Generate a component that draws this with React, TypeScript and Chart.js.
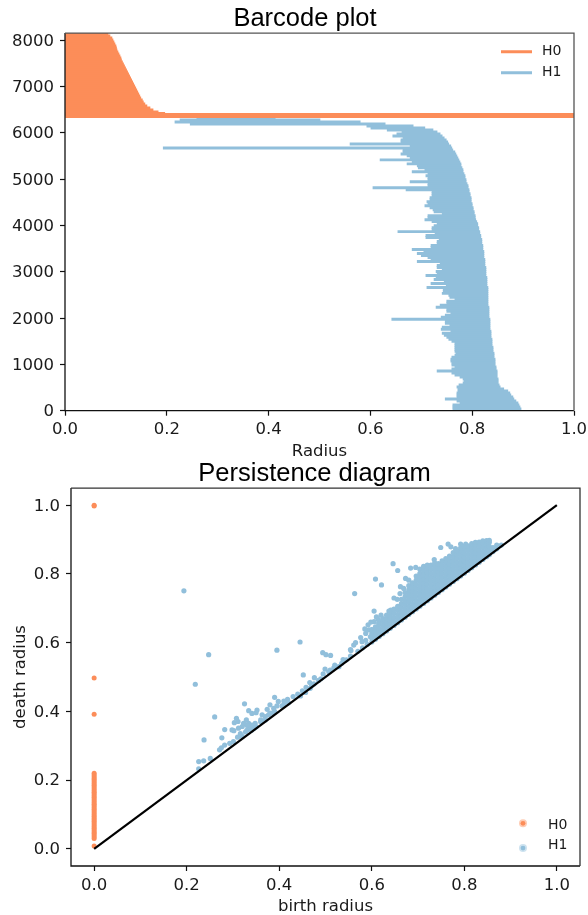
import React, { useEffect, useRef } from "react";
import { Chart, registerables } from "chart.js";

Chart.register(...registerables);

const ORANGE = "#fc8d59";
const BLUE = "#91bfdb";
const TEXT = "#1a1a1a";
const TICK_FONT = { family: "'DejaVu Sans'", size: 16.5 };
const TITLE_FONT = { family: "'Liberation Sans'", size: 25.5, weight: "normal", lineHeight: 1.1 };

const radiusTicks = [0, 0.2, 0.4, 0.6, 0.8, 1];
const rankTicks = [0, 1000, 2000, 3000, 4000, 5000, 6000, 7000, 8000];

// Barcode plot: H0 bars (all born at radius 0)
const h0Ranks = [
  8129, 8086, 8043, 8000, 7957, 7913, 7870, 7827, 7784, 7741,
  7698, 7655, 7611, 7568, 7525, 7482, 7439, 7396, 7353, 7309,
  7266, 7223, 7180, 7137, 7094, 7051, 7008, 6964, 6921, 6878,
  6835, 6792, 6749, 6706, 6662, 6619, 6576, 6533, 6490, 6447,
  6415, 6392, 6349,
];
const h0Deaths = [
  0.0845, 0.0884, 0.0923, 0.0943, 0.0963, 0.0982, 0.1002, 0.1012, 0.1022, 0.1041,
  0.1061, 0.1081, 0.11, 0.111, 0.113, 0.115, 0.117, 0.119, 0.121, 0.123,
  0.125, 0.127, 0.129, 0.131, 0.133, 0.135, 0.137, 0.139, 0.141, 0.143,
  0.145, 0.147, 0.149, 0.152, 0.154, 0.157, 0.161, 0.167, 0.173, 0.183,
  0.196, 1, 1,
];

// Barcode plot: H1 bars
const h1Ranks = [
  6316, 6273, 6230, 6187, 6144, 6101, 6058, 6015, 5972, 5929,
  5886, 5843, 5800, 5757, 5714, 5671, 5628, 5585, 5542, 5499,
  5456, 5413, 5370, 5327, 5284, 5241, 5198, 5155, 5112, 5069,
  5026, 4983, 4940, 4897, 4854, 4811, 4768, 4725, 4682, 4639,
  4596, 4553, 4510, 4467, 4424, 4381, 4338, 4295, 4252, 4209,
  4166, 4123, 4080, 4037, 3994, 3951, 3908, 3865, 3822, 3779,
  3736, 3693, 3650, 3607, 3564, 3521, 3478, 3435, 3392, 3349,
  3306, 3263, 3220, 3177, 3134, 3091, 3048, 3005, 2962, 2919,
  2876, 2833, 2790, 2747, 2704, 2661, 2618, 2575, 2532, 2489,
  2446, 2403, 2360, 2317, 2274, 2231, 2188, 2145, 2102, 2059,
  2016, 1973, 1930, 1887, 1844, 1801, 1758, 1715, 1672, 1629,
  1586, 1543, 1500, 1457, 1414, 1371, 1328, 1285, 1242, 1199,
  1156, 1113, 1070, 1027, 984, 941, 898, 855, 812, 769,
  726, 683, 640, 597, 554, 511, 468, 425, 382, 339,
  296, 253, 210, 167, 124, 81, 38,
];
const h1Births = [
  0.259, 0.226, 0.216, 0.246, 0.593, 0.601, 0.633, 0.662, 0.652, 0.644,
  0.664, 0.66, 0.66, 0.56, 0.678, 0.193, 0.664, 0.664, 0.66, 0.672,
  0.678, 0.619, 0.682, 0.672, 0.692, 0.694, 0.707, 0.682, 0.713, 0.709,
  0.713, 0.713, 0.678, 0.713, 0.713, 0.605, 0.67, 0.721, 0.721, 0.721,
  0.717, 0.717, 0.711, 0.713, 0.707, 0.717, 0.723, 0.725, 0.741, 0.713,
  0.713, 0.707, 0.721, 0.731, 0.725, 0.721, 0.721, 0.654, 0.727, 0.709,
  0.709, 0.735, 0.731, 0.731, 0.719, 0.719, 0.682, 0.705, 0.692, 0.7,
  0.713, 0.719, 0.692, 0.737, 0.731, 0.731, 0.741, 0.729, 0.731, 0.709,
  0.729, 0.725, 0.745, 0.719, 0.749, 0.711, 0.743, 0.743, 0.741, 0.754,
  0.756, 0.766, 0.75, 0.75, 0.737, 0.729, 0.75, 0.75, 0.758, 0.747,
  0.739, 0.642, 0.747, 0.747, 0.756, 0.741, 0.739, 0.758, 0.741, 0.745,
  0.75, 0.754, 0.76, 0.766, 0.766, 0.766, 0.766, 0.766, 0.768, 0.766,
  0.76, 0.758, 0.758, 0.76, 0.76, 0.766, 0.76, 0.731, 0.76, 0.766,
  0.776, 0.782, 0.784, 0.782, 0.774, 0.77, 0.772, 0.772, 0.77, 0.77,
  0.77, 0.747, 0.77, 0.776, 0.762, 0.762, 0.762,
];
const h1Deaths = [
  0.413, 0.501, 0.58, 0.629, 0.684, 0.707, 0.723, 0.731, 0.737, 0.741,
  0.745, 0.749, 0.752, 0.754, 0.758, 0.76, 0.762, 0.766, 0.768, 0.77,
  0.772, 0.774, 0.776, 0.778, 0.778, 0.78, 0.782, 0.782, 0.784, 0.786,
  0.786, 0.788, 0.788, 0.79, 0.792, 0.792, 0.794, 0.794, 0.796, 0.796,
  0.798, 0.798, 0.798, 0.8, 0.8, 0.802, 0.802, 0.804, 0.804, 0.806,
  0.806, 0.807, 0.809, 0.811, 0.811, 0.813, 0.813, 0.815, 0.815, 0.817,
  0.817, 0.819, 0.819, 0.819, 0.821, 0.821, 0.821, 0.823, 0.823, 0.823,
  0.823, 0.825, 0.825, 0.825, 0.825, 0.827, 0.827, 0.827, 0.827, 0.827,
  0.829, 0.829, 0.829, 0.829, 0.829, 0.831, 0.831, 0.831, 0.831, 0.831,
  0.831, 0.831, 0.831, 0.831, 0.831, 0.833, 0.833, 0.833, 0.833, 0.833,
  0.833, 0.835, 0.835, 0.835, 0.835, 0.835, 0.835, 0.837, 0.837, 0.837,
  0.837, 0.839, 0.839, 0.839, 0.839, 0.841, 0.841, 0.841, 0.843, 0.843,
  0.843, 0.845, 0.845, 0.845, 0.845, 0.847, 0.847, 0.849, 0.849, 0.849,
  0.849, 0.851, 0.851, 0.851, 0.853, 0.855, 0.862, 0.87, 0.874, 0.876,
  0.88, 0.882, 0.886, 0.89, 0.892, 0.894, 0.896,
];

// Persistence diagram: H0 deaths (all at birth 0)
const pdH0Deaths = [
  1, 0.998, 0.497, 0.392, 0.22, 0.215, 0.21, 0.205, 0.2, 0.195, 0.19, 0.185, 0.18,
  0.175, 0.17, 0.165, 0.16, 0.155, 0.15, 0.145, 0.14, 0.135, 0.13, 0.125, 0.12,
  0.115, 0.11, 0.105, 0.1, 0.095, 0.09, 0.085, 0.08, 0.075, 0.07, 0.065, 0.06,
  0.055, 0.05, 0.045, 0.04, 0.035, 0.03, 0.008,
];

// Persistence diagram: isolated H1 points [birth, death]
const pdH1Sparse = [
  [0.194, 0.751], [0.2475, 0.565], [0.2186, 0.479], [0.395, 0.578], [0.445, 0.602], [0.2605, 0.384],
  [0.325, 0.422], [0.2375, 0.317], [0.226, 0.254], [0.2367, 0.256], [0.226, 0.233], [0.251, 0.263],
  [0.271, 0.288], [0.275, 0.294], [0.282, 0.302], [0.276, 0.323], [0.2822, 0.347], [0.298, 0.346],
  [0.302, 0.344], [0.303, 0.367], [0.3075, 0.38], [0.311, 0.3705], [0.312, 0.351], [0.293, 0.307],
  [0.301, 0.312], [0.32, 0.327], [0.32, 0.356], [0.323, 0.365], [0.329, 0.375], [0.334, 0.365],
  [0.334, 0.351], [0.341, 0.36], [0.348, 0.365], [0.334, 0.402], [0.341, 0.394], [0.35, 0.396],
  [0.352, 0.404], [0.36, 0.375], [0.363, 0.39], [0.37, 0.385], [0.377, 0.39], [0.374, 0.406],
  [0.38, 0.419], [0.39, 0.441], [0.398, 0.429], [0.388, 0.409], [0.395, 0.416], [0.406, 0.416],
  [0.41, 0.419], [0.418, 0.435], [0.43, 0.443], [0.446, 0.445], [0.452, 0.506], [0.457, 0.455],
  [0.466, 0.484], [0.467, 0.467], [0.476, 0.498], [0.495, 0.509], [0.499, 0.523], [0.507, 0.515],
  [0.518, 0.527], [0.529, 0.53], [0.538, 0.551], [0.554, 0.561], [0.555, 0.577], [0.561, 0.593],
  [0.494, 0.571], [0.501, 0.565], [0.511, 0.563], [0.579, 0.603], [0.563, 0.743], [0.608, 0.785],
  [0.621, 0.768], [0.646, 0.83], [0.656, 0.81], [0.684, 0.817], [0.695, 0.819], [0.749, 0.877],
  [0.765, 0.887], [0.792, 0.887], [0.803, 0.887], [0.771, 0.879], [0.781, 0.874], [0.735, 0.842],
  [0.673, 0.787], [0.68, 0.782], [0.662, 0.763], [0.669, 0.758], [0.661, 0.743], [0.648, 0.73],
  [0.655, 0.726], [0.605, 0.692], [0.637, 0.692], [0.641, 0.695], [0.605, 0.661], [0.614, 0.668],
  [0.626, 0.666], [0.63, 0.656], [0.615, 0.656], [0.641, 0.67], [0.594, 0.637], [0.587, 0.627],
  [0.576, 0.615], [0.554, 0.58], [0.601, 0.637], [0.608, 0.627], [0.597, 0.617], [0.619, 0.632],
  [0.587, 0.607], [0.605, 0.612], [0.57, 0.575], [0.58, 0.585], [0.59, 0.595],
  [0.33, 0.345], [0.336, 0.355], [0.345, 0.35], [0.327, 0.34], [0.34, 0.345], [0.35, 0.355],
  [0.33, 0.36], [0.316, 0.335], [0.31, 0.325], [0.36, 0.37], [0.37, 0.375], [0.38, 0.395],
  [0.385, 0.395], [0.39, 0.4], [0.41, 0.43], [0.42, 0.425], [0.44, 0.45], [0.475, 0.48],
  [0.485, 0.49], [0.49, 0.495], [0.51, 0.52], [0.52, 0.535], [0.535, 0.54], [0.545, 0.55],
  [0.45, 0.46], [0.458, 0.47], [0.47, 0.475], [0.565, 0.6], [0.585, 0.64], [0.592, 0.652],
  [0.598, 0.66], [0.61, 0.675], [0.62, 0.68],
];

// Persistence diagram: dense H1 cloud, one birth with its deaths per entry
const pdH1Dense: [number, number[]][] = [
  [0.6, [0.602, 0.614, 0.626, 0.638]],
  [0.608, [0.61, 0.622, 0.634, 0.646]],
  [0.616, [0.618, 0.63, 0.642, 0.654, 0.66]],
  [0.624, [0.626, 0.638, 0.65, 0.662, 0.67]],
  [0.632, [0.634, 0.646, 0.658, 0.67, 0.68]],
  [0.64, [0.642, 0.654, 0.666, 0.678, 0.69]],
  [0.648, [0.65, 0.662, 0.674, 0.686, 0.698]],
  [0.656, [0.658, 0.67, 0.682, 0.694, 0.706]],
  [0.664, [0.666, 0.678, 0.69, 0.702, 0.714, 0.726]],
  [0.672, [0.674, 0.686, 0.698, 0.71, 0.722, 0.734, 0.746]],
  [0.68, [0.682, 0.694, 0.706, 0.718, 0.73, 0.742, 0.754, 0.766]],
  [0.688, [0.69, 0.702, 0.714, 0.726, 0.738, 0.75, 0.762, 0.774]],
  [0.696, [0.698, 0.71, 0.722, 0.734, 0.746, 0.758, 0.77, 0.782, 0.794]],
  [0.704, [0.706, 0.718, 0.73, 0.742, 0.754, 0.766, 0.778, 0.79, 0.802, 0.814]],
  [0.712, [0.714, 0.726, 0.738, 0.75, 0.762, 0.774, 0.786, 0.798, 0.81, 0.822]],
  [0.72, [0.722, 0.734, 0.746, 0.758, 0.77, 0.782, 0.794, 0.806, 0.818, 0.826]],
  [0.728, [0.73, 0.742, 0.754, 0.766, 0.778, 0.79, 0.802, 0.814, 0.826]],
  [0.736, [0.738, 0.75, 0.762, 0.774, 0.786, 0.798, 0.81, 0.822, 0.832]],
  [0.744, [0.746, 0.758, 0.77, 0.782, 0.794, 0.806, 0.818, 0.83]],
  [0.752, [0.754, 0.766, 0.778, 0.79, 0.802, 0.814, 0.826, 0.838]],
  [0.76, [0.762, 0.774, 0.786, 0.798, 0.81, 0.822, 0.834, 0.845]],
  [0.768, [0.77, 0.782, 0.794, 0.806, 0.818, 0.83, 0.842, 0.852]],
  [0.776, [0.778, 0.79, 0.802, 0.814, 0.826, 0.838, 0.85, 0.862]],
  [0.784, [0.786, 0.798, 0.81, 0.822, 0.834, 0.846, 0.858, 0.868]],
  [0.792, [0.794, 0.806, 0.818, 0.83, 0.842, 0.854, 0.866, 0.876]],
  [0.8, [0.802, 0.814, 0.826, 0.838, 0.85, 0.862, 0.874, 0.88]],
  [0.808, [0.81, 0.822, 0.834, 0.846, 0.858, 0.87, 0.882]],
  [0.816, [0.818, 0.83, 0.842, 0.854, 0.866, 0.878, 0.888]],
  [0.824, [0.826, 0.838, 0.85, 0.862, 0.874, 0.886, 0.892]],
  [0.832, [0.834, 0.846, 0.858, 0.87, 0.882, 0.893]],
  [0.84, [0.842, 0.854, 0.866, 0.878, 0.89, 0.896]],
  [0.848, [0.85, 0.862, 0.874, 0.886, 0.897]],
  [0.854, [0.856, 0.868, 0.88, 0.892, 0.898]],
  [0.862, [0.865, 0.877]],
  [0.87, [0.873, 0.884]],
  [0.88, [0.884]],
];

const diagonalEnds = [0, 1];

// Draws the four spines plus the small legend inside the plot area
const framePlugin = {
  id: "frame",
  afterLayout(chart: any) {
    // let the y tick labels and axis title use the margin left of the scale box
    chart.scales.y.left = 0;
  },
  afterDraw(chart: any, _args: any, opts: any) {
    const { ctx, chartArea: a } = chart;
    ctx.save();
    ctx.lineWidth = 1.3;
    ctx.strokeStyle = "#111";
    ctx.beginPath();
    ctx.moveTo(a.left, a.top);
    ctx.lineTo(a.left, a.bottom);
    ctx.lineTo(a.right, a.bottom);
    ctx.stroke();
    ctx.strokeStyle = opts.farEdge;
    ctx.beginPath();
    ctx.moveTo(a.left, a.top);
    ctx.lineTo(a.right, a.top);
    ctx.lineTo(a.right, a.bottom);
    ctx.stroke();

    ctx.font = "14px 'DejaVu Sans'";
    ctx.textBaseline = "middle";
    for (const item of opts.items) {
      if (opts.kind === "line") {
        ctx.strokeStyle = item.color;
        ctx.lineWidth = 3;
        ctx.beginPath();
        ctx.moveTo(a.right - 73, a.top + item.dy);
        ctx.lineTo(a.right - 42, a.top + item.dy);
        ctx.stroke();
      } else {
        ctx.fillStyle = item.color;
        ctx.globalAlpha = 0.45;
        ctx.beginPath();
        ctx.arc(a.right - 57, a.top + item.dy, 4, 0, Math.PI * 2);
        ctx.fill();
        ctx.globalAlpha = 1;
        ctx.beginPath();
        ctx.arc(a.right - 57, a.top + item.dy, 2.4, 0, Math.PI * 2);
        ctx.fill();
      }
      ctx.fillStyle = TEXT;
      ctx.fillText(item.label, a.right - opts.textInset, a.top + item.textDy);
    }
    ctx.restore();
  },
};

function axis(extra: any) {
  return {
    type: "linear",
    offset: false,
    grid: {
      offset: false,
      drawOnChartArea: false,
      drawTicks: true,
      tickLength: 5,
      tickWidth: 1.2,
      tickColor: "#111",
    },
    border: { display: false },
    ...extra,
    ticks: { color: TEXT, font: TICK_FONT, padding: 3, includeBounds: false, maxRotation: 0, autoSkip: false, ...extra.ticks },
  };
}

const fixBoxHeight = (h: number) => (s: any) => {
  s.height = h;
  s.paddingLeft = 0;
  s.paddingRight = 0;
};
const fixBoxWidth = (w: number) => (s: any) => {
  s.width = w;
  s.paddingTop = 0;
  s.paddingBottom = 0;
};

function barcodeConfig(): any {
  return {
    type: "bar",
    data: {
      datasets: [
        {
          label: "H0",
          data: h0Ranks.map((y, i) => ({ y, x: [0, h0Deaths[i]] })),
          backgroundColor: ORANGE,
          barThickness: 2.3,
          grouped: false,
          borderWidth: 0,
        },
        {
          label: "H1",
          data: h1Ranks.map((y, i) => ({ y, x: [h1Births[i], h1Deaths[i]] })),
          backgroundColor: BLUE,
          barThickness: 2.3,
          grouped: false,
          borderWidth: 0,
        },
      ],
    },
    plugins: [framePlugin],
    options: {
      indexAxis: "y",
      responsive: false,
      animation: false,
      events: [],
      layout: { padding: { left: 36, right: 14, top: 0, bottom: 0 } },
      plugins: {
        legend: { display: false },
        tooltip: { enabled: false },
        title: {
          display: true,
          text: "Barcode plot",
          color: "#000",
          font: TITLE_FONT,
          padding: { top: 5, bottom: 0 },
        },
        frame: {
          farEdge: "#555",
          kind: "line",
          textInset: 32,
          items: [
            { label: "H0", color: ORANGE, dy: 18.7, textDy: 18.7 },
            { label: "H1", color: BLUE, dy: 39.7, textDy: 39.7 },
          ],
        },
      },
      scales: {
        x: axis({
          min: 0,
          max: 1,
          afterBuildTicks: (s: any) => (s.ticks = radiusTicks.map((value) => ({ value }))),
          afterFit: fixBoxHeight(51.3),
          ticks: { padding: 4, callback: (v: number) => Number(v).toFixed(1) },
          title: { display: true, text: "Radius", color: TEXT, font: TICK_FONT, padding: { top: 0, bottom: 0.5 } },
        }),
        y: axis({
          min: 0,
          max: 8150,
          afterBuildTicks: (s: any) => (s.ticks = rankTicks.map((value) => ({ value }))),
          afterFit: fixBoxWidth(29),
          ticks: { padding: 6, labelOffset: 1.5, callback: (v: number) => String(v) },
        }),
      },
    },
  };
}

function diagramConfig(): any {
  const dense = pdH1Dense.flatMap(([x, deaths]) => deaths.map((y) => ({ x, y })));
  const sparse = pdH1Sparse.map(([x, y]) => ({ x, y }));
  return {
    type: "scatter",
    data: {
      datasets: [
        {
          label: "diagonal",
          type: "line",
          data: diagonalEnds.map((v) => ({ x: v, y: v })),
          borderColor: "#000",
          borderWidth: 2.2,
          pointRadius: 0,
          showLine: true,
        },
        {
          label: "H0",
          data: pdH0Deaths.map((y) => ({ x: 0, y })),
          backgroundColor: ORANGE,
          borderWidth: 0,
          pointRadius: 2.5,
        },
        {
          label: "H1",
          data: [...sparse, ...dense],
          backgroundColor: BLUE,
          borderWidth: 0,
          pointRadius: 2.6,
        },
      ],
    },
    plugins: [framePlugin],
    options: {
      responsive: false,
      animation: false,
      events: [],
      layout: { padding: { left: 49, right: 8, top: 0, bottom: 0 } },
      plugins: {
        legend: { display: false },
        tooltip: { enabled: false },
        title: {
          display: true,
          text: "Persistence diagram",
          color: "#000",
          font: TITLE_FONT,
          padding: { top: 2, bottom: 0 },
        },
        frame: {
          farEdge: "#333",
          kind: "dot",
          textInset: 32,
          items: [
            { label: "H0", color: ORANGE, dy: 335.3, textDy: 337 },
            { label: "H1", color: BLUE, dy: 360, textDy: 357.7 },
          ],
        },
      },
      scales: {
        x: axis({
          min: -0.05,
          max: 1.05,
          afterBuildTicks: (s: any) => (s.ticks = radiusTicks.map((value) => ({ value }))),
          afterFit: fixBoxHeight(49),
          ticks: { padding: 5, callback: (v: number) => Number(v).toFixed(1) },
          title: { display: true, text: "birth radius", color: TEXT, font: TICK_FONT, padding: { top: 0, bottom: -1.5 } },
        }),
        y: axis({
          min: -0.05,
          max: 1.05,
          afterBuildTicks: (s: any) => (s.ticks = radiusTicks.map((value) => ({ value }))),
          afterFit: fixBoxWidth(22),
          ticks: { padding: 6, labelOffset: 1, callback: (v: number) => Number(v).toFixed(1) },
          title: { display: true, text: "death radius", color: TEXT, font: TICK_FONT, padding: { top: 11, bottom: 0 } },
        }),
      },
    },
  };
}

function ChartCanvas({ config, top, height }: { config: () => any; top: number; height: number }) {
  const ref = useRef<HTMLCanvasElement>(null);
  useEffect(() => {
    const chart = new Chart(ref.current as HTMLCanvasElement, config());
    return () => chart.destroy();
  }, [config]);
  return (
    <canvas
      ref={ref}
      width={588}
      height={height}
      style={{ position: "absolute", left: 0, top, width: 588, height, display: "block" }}
    />
  );
}

export default function App() {
  return (
    <div style={{ position: "absolute", left: 0, top: 0, width: 588, height: 915, overflow: "hidden", background: "#fff" }}>
      <ChartCanvas config={barcodeConfig} top={0} height={462} />
      <ChartCanvas config={diagramConfig} top={458} height={457} />
    </div>
  );
}
